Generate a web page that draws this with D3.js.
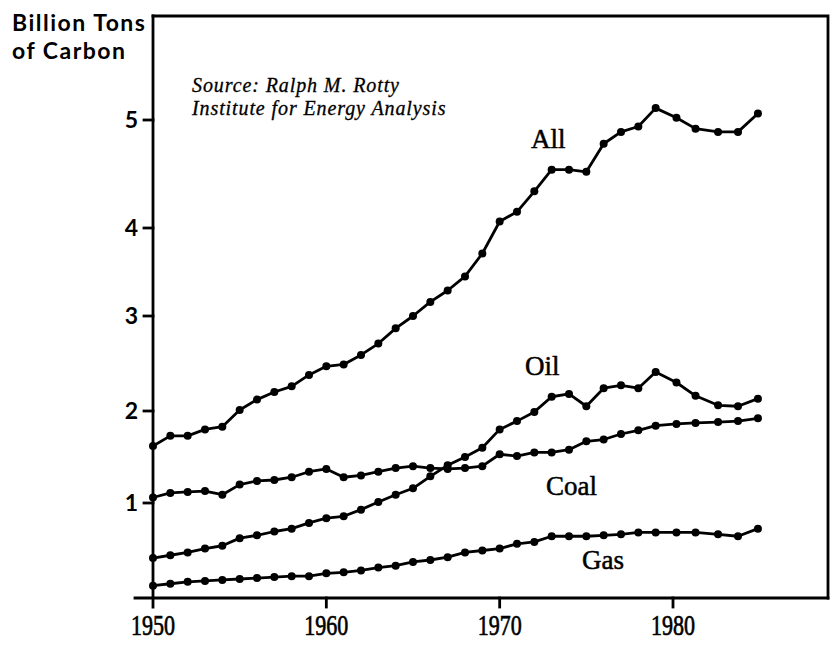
<!DOCTYPE html>
<html>
<head>
<meta charset="utf-8">
<script src="https://cdn.jsdelivr.net/npm/d3@7"></script>
<style>
  html, body { margin: 0; padding: 0; background: #fff; }
  svg { display: block; }
</style>
</head>
<body>
<svg id="chart" width="833" height="645"></svg>
<script>
// years as plotted (the last five points are drawn a little spread out in the original)
const years = [1950, 1951, 1952, 1953, 1954, 1955, 1956, 1957, 1958, 1959,
               1960, 1961, 1962, 1963, 1964, 1965, 1966, 1967, 1968, 1969,
               1970, 1971, 1972, 1973, 1974, 1975, 1976, 1977, 1978, 1979,
               1980.2, 1981.3, 1982.6, 1983.75, 1984.9];

// billion tons of carbon
const allFuels = [1.62, 1.73, 1.73, 1.80, 1.83, 2.01, 2.12, 2.20, 2.26, 2.38,
                  2.47, 2.49, 2.59, 2.71, 2.87, 3.00, 3.16, 3.29, 3.45, 3.71,
                  4.06, 4.15, 4.34, 4.54, 4.54, 4.52, 4.78, 4.89, 4.94, 5.11,
                  5.02, 4.92, 4.89, 4.89, 5.06];
const oil = [0.42, 0.45, 0.48, 0.52, 0.55, 0.63, 0.66, 0.70, 0.73, 0.79,
             0.84, 0.86, 0.93, 1.01, 1.09, 1.16, 1.29, 1.41, 1.50, 1.60,
             1.80, 1.89, 1.99, 2.15, 2.18, 2.05, 2.24, 2.27, 2.24, 2.41,
             2.30, 2.16, 2.06, 2.05, 2.13];
const coal = [1.06, 1.11, 1.12, 1.13, 1.09, 1.20, 1.24, 1.25, 1.28, 1.34,
              1.37, 1.28, 1.30, 1.34, 1.38, 1.40, 1.38, 1.37, 1.38, 1.40,
              1.53, 1.51, 1.55, 1.55, 1.58, 1.67, 1.69, 1.75, 1.79, 1.84,
              1.86, 1.87, 1.88, 1.89, 1.92];
const gas = [0.13, 0.15, 0.17, 0.18, 0.19, 0.20, 0.21, 0.22, 0.23, 0.23,
             0.26, 0.27, 0.29, 0.32, 0.34, 0.38, 0.40, 0.43, 0.48, 0.50,
             0.52, 0.57, 0.59, 0.65, 0.65, 0.65, 0.66, 0.67, 0.69, 0.69,
             0.69, 0.69, 0.67, 0.65, 0.73];

const seriesNames = ["All", "Oil", "Coal", "Gas"];
const yTicks = [1, 2, 3, 4, 5];
const xTicks = [1950, 1960, 1970, 1980];

const svg = d3.select("#chart");

// the hand drawn axis is not quite even, so the y scale follows its tick marks
const x = d3.scaleLinear().domain([1950, 1989]).range([153, 829]);
const y = d3.scaleLinear().domain([0, 1, 2, 3, 4, 5]).range([598, 503, 411, 316, 228, 120]);

const serif = "'Liberation Serif', 'DejaVu Serif', serif";
const sans = "Lato, 'Open Sans', sans-serif";

// frame
const frame = svg.append("g")
    .attr("fill", "none")
    .attr("stroke", "#000")
    .attr("stroke-width", 2.8)
    .attr("stroke-linecap", "square");

frame.append("path").attr("d", `M${x(1950)},16 H${x(1989) - 1} V${y(0)}`);
frame.append("line")
    .attr("x1", x(1950)).attr("x2", x(1950))
    .attr("y1", 16).attr("y2", y(0) + 9);
frame.append("line")
    .attr("x1", x(1950) - 18).attr("x2", x(1989) - 1)
    .attr("y1", y(0)).attr("y2", y(0));

// y axis ticks + labels
frame.selectAll(".ytick")
    .data(yTicks)
    .join("line")
    .attr("x1", x(1950) - 9).attr("x2", x(1950))
    .attr("y1", d => y(d)).attr("y2", d => y(d));

svg.append("g")
    .selectAll("text")
    .data(yTicks)
    .join("text")
    .attr("x", x(1950) - 15)
    .attr("y", d => y(d) + 8)
    .attr("text-anchor", "end")
    .attr("font-family", sans)
    .attr("font-weight", 700)
    .attr("font-size", 23)
    .text(d => d);

// x axis ticks + labels
frame.selectAll(".xtick")
    .data(xTicks.slice(1))
    .join("line")
    .attr("x1", d => x(d)).attr("x2", d => x(d))
    .attr("y1", y(0)).attr("y2", y(0) + 9);

svg.append("g")
    .selectAll("text")
    .data(xTicks)
    .join("text")
    .attr("transform", d => `translate(${x(d)},635) scale(0.76,1)`)
    .attr("text-anchor", "middle")
    .attr("font-family", serif)
    .attr("font-size", 29)
    .attr("stroke", "#000")
    .attr("stroke-width", 0.7)
    .text(d => d);

// axis title
const title = svg.append("text")
    .attr("font-family", sans)
    .attr("font-weight", 700)
    .attr("font-size", 23)
    .attr("letter-spacing", 1.5);
title.append("tspan").attr("x", 12).attr("y", 31).text("Billion Tons");
title.append("tspan").attr("x", 12).attr("y", 59).text("of Carbon");

// source note
const note = svg.append("text")
    .attr("font-family", serif)
    .attr("font-style", "italic")
    .attr("font-size", 20)
    .attr("letter-spacing", 0.9)
    .attr("stroke", "#000")
    .attr("stroke-width", 0.3);
note.append("tspan").attr("x", 192).attr("y", 91.5).text("Source: Ralph M. Rotty");
note.append("tspan").attr("x", 192).attr("y", 114.5).text("Institute for Energy Analysis");

// series
const line = d3.line()
    .x((d, i) => x(years[i]))
    .y(d => y(d));

const seriesData = [allFuels, oil, coal, gas];
const labelPos = [[531, 148], [525, 375], [546, 495], [582, 569]];

seriesData.forEach((vals, k) => {
    const g = svg.append("g");
    g.append("path")
        .datum(vals)
        .attr("d", line)
        .attr("fill", "none")
        .attr("stroke", "#000")
        .attr("stroke-width", 2.8)
        .attr("stroke-linejoin", "round");
    g.selectAll("circle")
        .data(vals)
        .join("circle")
        .attr("cx", (d, i) => x(years[i]))
        .attr("cy", d => y(d))
        .attr("r", 4)
        .attr("fill", "#000");
    g.append("text")
        .attr("x", labelPos[k][0])
        .attr("y", labelPos[k][1])
        .attr("font-family", serif)
        .attr("font-size", 27)
        .attr("stroke", "#000")
        .attr("stroke-width", 0.5)
        .text(seriesNames[k]);
});
</script>
</body>
</html>
